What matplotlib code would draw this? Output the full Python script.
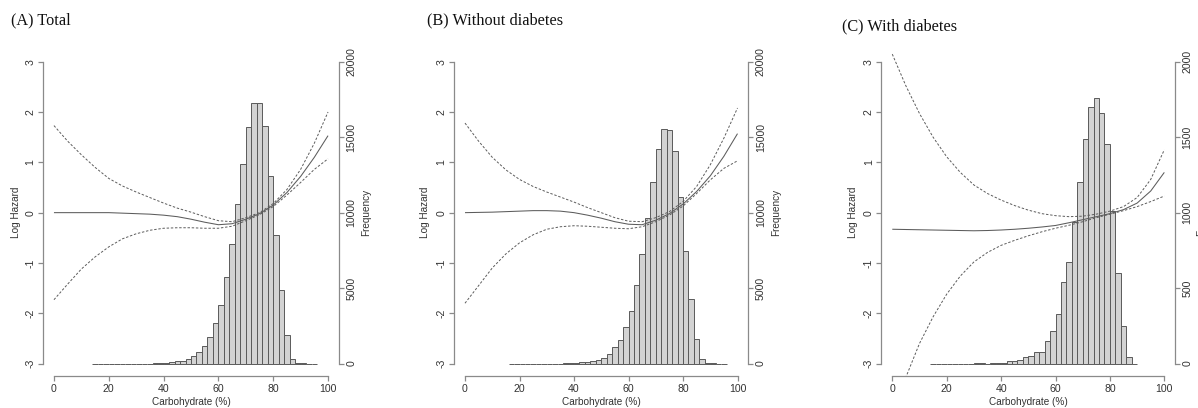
import numpy as np
import matplotlib
matplotlib.use("Agg")
import matplotlib.pyplot as plt

plt.rcParams["axes.unicode_minus"] = False

# ---------------- data ----------------
carb_grid = [0, 5, 10, 15, 20, 25, 30, 35, 40, 45, 50, 55, 60, 65, 70, 75, 80, 85, 90, 95, 100]

# (A) Total
a_fit = [0, 0, 0, 0, 0, -0.01, -0.02, -0.03, -0.05, -0.08, -0.13, -0.19, -0.24, -0.22, -0.13, -0.02, 0.15, 0.40, 0.72, 1.10, 1.53]
a_upper = [1.73, 1.42, 1.15, 0.90, 0.68, 0.53, 0.41, 0.30, 0.19, 0.09, 0.01, -0.08, -0.16, -0.18, -0.10, 0.00, 0.18, 0.46, 0.86, 1.38, 2.00]
a_lower = [-1.73, -1.42, -1.12, -0.88, -0.68, -0.52, -0.42, -0.35, -0.31, -0.30, -0.30, -0.31, -0.31, -0.27, -0.16, -0.04, 0.12, 0.35, 0.60, 0.86, 1.07]
a_bin_start = 14
a_counts = [0, 0, 0, 0, 0, 0, 0, 0, 0, 0, 0,
            44, 44, 66, 120, 155, 200, 320, 505, 760, 1160, 1745, 2670, 3855, 5770,
            7945, 10540, 13225, 15680, 17240, 17240, 15745, 12420, 8495, 4850, 1865,
            318, 44, 10, 0, 0]

# (B) Without diabetes
b_fit = [0, 0.005, 0.01, 0.02, 0.03, 0.04, 0.04, 0.03, 0.00, -0.05, -0.11, -0.18, -0.23, -0.24, -0.15, -0.02, 0.17, 0.42, 0.73, 1.12, 1.57]
b_upper = [1.78, 1.42, 1.10, 0.85, 0.66, 0.52, 0.41, 0.31, 0.21, 0.10, 0.00, -0.10, -0.17, -0.18, -0.10, 0.02, 0.22, 0.52, 0.95, 1.48, 2.08]
b_lower = [-1.80, -1.45, -1.10, -0.82, -0.60, -0.44, -0.33, -0.28, -0.26, -0.27, -0.29, -0.31, -0.32, -0.28, -0.18, -0.05, 0.13, 0.38, 0.65, 0.88, 1.03]
b_bin_start = 16
b_counts = [0, 0, 0, 0, 0, 0, 0, 0, 0, 0,
            20, 44, 66, 88, 133, 177, 265, 398, 663, 1083, 1591, 2431, 3514, 5238,
            7249, 9613, 12022, 14188, 15514, 15470, 14077, 11006, 7470, 4265, 1613,
            287, 44, 10, 0, 0]

# (C) With diabetes
c_fit = [-0.33, -0.335, -0.34, -0.345, -0.35, -0.355, -0.36, -0.355, -0.345, -0.33, -0.31, -0.285, -0.255, -0.20, -0.14, -0.08, -0.02, 0.06, 0.19, 0.43, 0.80]
c_upper = [3.15, 2.52, 1.97, 1.50, 1.11, 0.80, 0.55, 0.38, 0.25, 0.14, 0.05, -0.02, -0.06, -0.08, -0.07, -0.03, 0.03, 0.12, 0.30, 0.66, 1.25]
c_lower = [-3.90, -3.27, -2.60, -2.07, -1.62, -1.26, -0.98, -0.79, -0.65, -0.55, -0.46, -0.38, -0.31, -0.25, -0.18, -0.10, -0.03, 0.04, 0.12, 0.22, 0.33]
c_bin_start = 14
c_counts = [0, 0, 0, 0, 0, 0, 0, 0,
            5, 5, 0, 5, 5, 5, 15, 20, 27, 44, 53, 80, 75, 150, 213, 326, 541, 671,
            937, 1205, 1490, 1702, 1757, 1657, 1453, 1008, 603, 251, 41, 0]

titles = ["(A) Total", "(B) Without diabetes", "(C) With diabetes"]
freq_max = [20000, 20000, 2000]
x_ticks = [0, 20, 40, 60, 80, 100]
y_ticks = [-3, -2, -1, 0, 1, 2, 3]
bin_width = 2

# ---------------- layout ----------------
W, H = 1198, 408
fig = plt.figure(figsize=(W / 100, H / 100), dpi=100)

axis_col = "#8a8a8a"
text_col = "#333333"
line_col = "#5c5c5c"
sans = "Liberation Sans"
serif = "Liberation Serif"

panel_px = [  # left, right, top, bottom of plot region (pixels)
    (43.0, 339.0, 49.6, 375.7),
    (454.1, 748.4, 49.6, 375.7),
    (881.4, 1175.2, 49.6, 375.7),
]
title_px = [(11, 20), (426.7, 20), (842, 26.7)]
loghaz_x = [16, 425, 853.3]
freq_x = [365.7, 775.7, 1201]

data = [
    (a_fit, a_upper, a_lower, a_bin_start, a_counts),
    (b_fit, b_upper, b_lower, b_bin_start, b_counts),
    (c_fit, c_upper, c_lower, c_bin_start, c_counts),
]

for i, (fit, up, lo, bstart, counts) in enumerate(data):
    l, r, t, b = panel_px[i]
    ax = fig.add_axes([l / W, 1 - b / H, (r - l) / W, (b - t) / H])
    ax2 = ax.twinx()
    ax.set_zorder(ax2.get_zorder() + 1)
    ax.patch.set_visible(False)

    fmax = freq_max[i]
    lefts = bstart + bin_width * np.arange(len(counts))
    ax2.bar(lefts, counts, width=bin_width, align="edge",
            facecolor="#d3d3d3", edgecolor="#5a5a5a", linewidth=0.7)
    ax2.set_ylim(-0.04 * fmax, 1.04 * fmax)

    ax.plot(carb_grid, fit, color=line_col, lw=0.75, solid_capstyle="butt")
    ax.plot(carb_grid, up, color=line_col, lw=0.7, ls=(0, (2.5, 1.8)))
    ax.plot(carb_grid, lo, color=line_col, lw=0.7, ls=(0, (2.5, 1.8)))

    ax.set_xlim(-4, 104)
    ax.set_ylim(-3.24, 3.24)
    ax.set_xticks(x_ticks)
    ax.set_yticks(y_ticks)
    ax2.set_yticks(np.linspace(0, fmax, 5))
    ax2.set_yticklabels([str(int(v)) for v in np.linspace(0, fmax, 5)])

    for s in ["top", "right"]:
        ax.spines[s].set_visible(False)
    for s in ["top", "left", "bottom"]:
        ax2.spines[s].set_visible(False)
    ax.spines["left"].set_bounds(-3, 3)
    ax.spines["bottom"].set_bounds(0, 100)
    ax2.spines["right"].set_bounds(0, fmax)
    for sp in [ax.spines["left"], ax.spines["bottom"], ax2.spines["right"]]:
        sp.set_color(axis_col)
        sp.set_linewidth(0.9)

    for a in (ax, ax2):
        a.tick_params(length=3.6, width=0.9, color=axis_col, labelcolor=text_col,
                      labelsize=7.6, pad=1.8)
    ax.tick_params(axis="x", pad=2.2)
    for lab in ax.get_xticklabels() + ax.get_yticklabels() + ax2.get_yticklabels():
        lab.set_family(sans)
    for lab in ax.get_yticklabels() + ax2.get_yticklabels():
        lab.set_rotation(90)
        lab.set_va("center")

    cx = (l + r) / 2
    fig.text(cx / W, 1 - 402 / H, "Carbohydrate (%)", ha="center", va="center",
             fontsize=7.2, family=sans, color=text_col)
    fig.text(loghaz_x[i] / W, 1 - 212 / H, "Log Hazard", ha="center", va="center",
             rotation=90, fontsize=7.2, family=sans, color=text_col)
    fig.text(freq_x[i] / W, 1 - 212 / H, "Frequency", ha="center", va="center",
             rotation=90, fontsize=7.2, family=sans, color=text_col)
    tx, ty = title_px[i]
    fig.text(tx / W, 1 - ty / H, titles[i], ha="left", va="center",
             fontsize=11.7, family=serif, color="#111111")

fig.savefig("out.png", dpi=100)
